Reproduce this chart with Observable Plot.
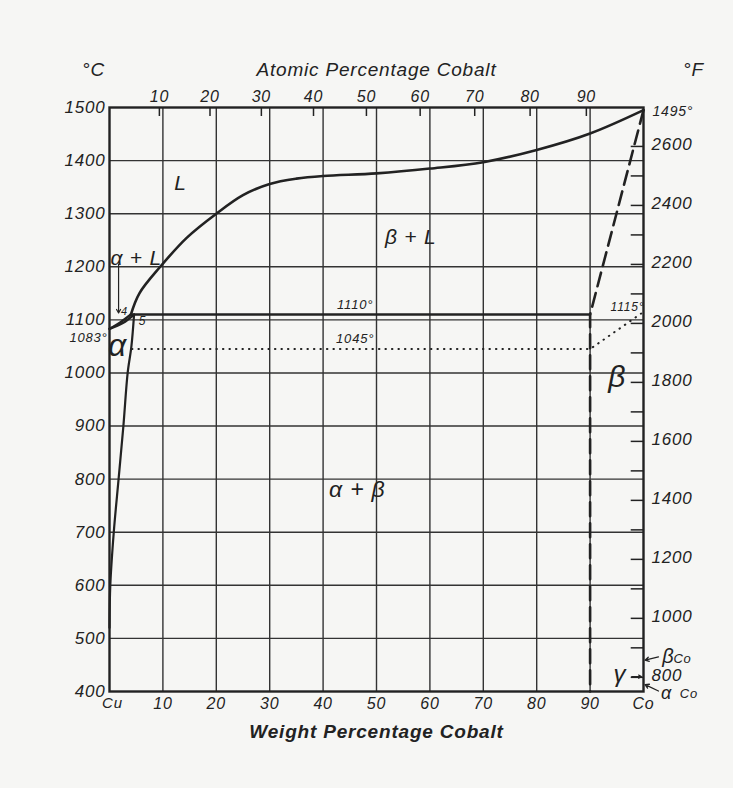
<!DOCTYPE html>
<html>
<head>
<meta charset="utf-8">
<script src="https://cdn.jsdelivr.net/npm/d3@7"></script>
<script src="https://cdn.jsdelivr.net/npm/@observablehq/plot@0.6"></script>
<style>
  html, body { margin: 0; padding: 0; background: #f6f6f4; }
  #chart { width: 733px; height: 788px; }
  svg text { letter-spacing: 0.8px; }
</style>
</head>
<body>
<div id="chart"></div>
<script>
// ---- axes / ticks ----
const wtTicks = [0, 10, 20, 30, 40, 50, 60, 70, 80, 90, 100];
const wtLabels = ["Cu", "10", "20", "30", "40", "50", "60", "70", "80", "90", "Co"];
const tempTicks = [400, 500, 600, 700, 800, 900, 1000, 1100, 1200, 1300, 1400, 1500];
const atTicks = [10, 20, 30, 40, 50, 60, 70, 80, 90];
const fTicks = [800, 900, 1000, 1100, 1200, 1300, 1400, 1500, 1600, 1700, 1800, 1900, 2000, 2100, 2200, 2300, 2400, 2500, 2600];
const fLabels = [800, 1000, 1200, 1400, 1600, 1800, 2000, 2200, 2400, 2600];

// ---- phase boundaries (weight % Co, °C) ----
const liquidusWt = [4.0, 5.6, 9.5, 14.5, 20, 25, 30, 35, 40, 50, 60, 70, 80, 90, 100];
const liquidusT  = [1110, 1150, 1200, 1255, 1300, 1335, 1356, 1366, 1371, 1376, 1385, 1397, 1420, 1451, 1495];
const cuLiqWt = [0, 2, 4.0];
const cuLiqT  = [1083, 1095, 1110];
const cuSolWt = [0, 2.5, 4.6];
const cuSolT  = [1083, 1094, 1110];
const solvusWt = [4.6, 4.1, 3.4, 2.6, 1.7, 0.8, 0.15, 0];
const solvusT  = [1110, 1050, 1000, 900, 800, 700, 600, 520];
const periWt = [4.0, 90];
const periT  = [1110, 1110];
const dotWt = [4.2, 90, 100];
const dotT  = [1045, 1045, 1115];
const dashWt = [100, 90, 90];
const dashT  = [1495, 1110, 400];

// Co allotropic markers (°C)
const betaCoT = 459, gammaT = 428, alphaCoT = 413;

const pts = (xs, ys) => xs.map((x, i) => ({x, y: ys[i]}));
const atToWt = a => a * 58.93 / (a * 58.93 + (100 - a) * 63.55) * 100;
const fToC = f => (f - 32) * 5 / 9;

const ink = "#222";
const txt = (s, x, y, o = {}) => Plot.text([s], {x: () => x, y: () => y, text: d => d, fill: ink, ...o});

const chart = Plot.plot({
  width: 733,
  height: 788,
  marginLeft: 109,
  marginRight: 90,
  marginTop: 107,
  marginBottom: 97,
  x: {domain: [0, 100]},
  y: {domain: [400, 1500]},
  style: {fontFamily: "'Liberation Sans', Arial, sans-serif", fontStyle: "italic", fontSize: "17px", background: "transparent", color: ink},
  marks: [
    // grid
    Plot.ruleX(wtTicks.slice(1, -1), {stroke: "#333", strokeWidth: 1.4}),
    Plot.ruleY(tempTicks.slice(1, -1), {stroke: "#333", strokeWidth: 1.4}),
    Plot.frame({stroke: ink, strokeWidth: 2.4}),
    // axes
    Plot.axisY({ticks: tempTicks, tickSize: 0, tickPadding: 4, tickFormat: d => String(d), label: null, fontSize: 17}),
    Plot.axisX({ticks: wtTicks.slice(1), tickSize: 0, tickPadding: 6, tickFormat: d => wtLabels[wtTicks.indexOf(d)], label: null, fontSize: 16}),
    txt(wtLabels[0], wtTicks[0], 400, {dx: 3, dy: 12, fontSize: 15}),
    // atomic % ticks on top
    Plot.ruleX(atTicks, {x: atToWt, y1: 1500, y2: 1483, stroke: ink, strokeWidth: 1.5}),
    Plot.text(atTicks, {x: atToWt, y: () => 1500, dy: -11, text: d => String(d), fill: ink, fontSize: 16}),
    // °F ticks on right
    Plot.ruleY(fTicks, {y: fToC, x1: 97.7, x2: 100, stroke: ink, strokeWidth: 1.5}),
    Plot.text(fLabels, {y: fToC, x: () => 100, dx: 8, dy: -2, text: d => String(d), textAnchor: "start", fill: ink, fontSize: 17}),
    // phase lines
    Plot.line(pts(liquidusWt, liquidusT), {x: "x", y: "y", curve: "catmull-rom", stroke: ink, strokeWidth: 2.6}),
    Plot.line(pts(cuLiqWt, cuLiqT), {x: "x", y: "y", curve: "catmull-rom", stroke: ink, strokeWidth: 2.4}),
    Plot.line(pts(cuSolWt, cuSolT), {x: "x", y: "y", curve: "catmull-rom", stroke: ink, strokeWidth: 2.4}),
    Plot.line(pts(solvusWt, solvusT), {x: "x", y: "y", curve: "catmull-rom", stroke: ink, strokeWidth: 2.2}),
    Plot.line(pts(periWt, periT), {x: "x", y: "y", stroke: ink, strokeWidth: 2.6}),
    Plot.line(pts(dotWt, dotT), {x: "x", y: "y", stroke: ink, strokeWidth: 2, strokeDasharray: "0.5,6", strokeLinecap: "round"}),
    Plot.line(pts(dashWt, dashT), {x: "x", y: "y", stroke: ink, strokeWidth: 2.6, strokeDasharray: "14,7"}),
    // α+L leader
    Plot.arrow([0], {x1: () => 1.7, y1: () => 1205, x2: () => 1.7, y2: () => 1113, stroke: ink, strokeWidth: 1.2, headLength: 5}),
    // titles
    txt("°C", -3, 1500, {dy: -38, fontSize: 19}),
    txt("°F", 100, 1500, {dx: 50, dy: -38, fontSize: 19}),
    txt("Atomic Percentage Cobalt", 50, 1500, {dy: -38, fontSize: 19, style: "letter-spacing:1.3px"}),
    txt("Weight Percentage Cobalt", 50, 400, {dy: 40, fontSize: 19, fontWeight: "bold"}),
    // temperature annotations
    txt("1495°", 100, 1495, {dx: 9, dy: 1, textAnchor: "start", fontSize: 14}),
    txt("1083°", 0, 1067, {dx: -2, textAnchor: "end", fontSize: 13}),
    txt("1110°", 46, 1110, {dy: -10, fontSize: 13}),
    txt("1045°", 46, 1045, {dy: -10, fontSize: 13}),
    txt("1115°", 97, 1110, {dy: -7, fontSize: 12}),
    txt("4", 2.8, 1116, {fontSize: 11}),
    txt("5", 6.2, 1097, {fontSize: 12}),
    // phase labels
    txt("L", 13.3, 1357, {fontSize: 21}),
    txt("α + L", 5, 1216, {fontSize: 21}),
    txt("β + L", 56.4, 1256, {fontSize: 21}),
    txt("α", 1.5, 1052, {fontSize: 32}),
    txt("β", 95.1, 991, {fontSize: 30}),
    txt("α + β", 46.4, 780, {fontSize: 23}),
    // Co allotropes
    Plot.arrow([0], {x1: () => 102.8, y1: () => betaCoT + 6, x2: () => 100.3, y2: () => betaCoT, stroke: ink, strokeWidth: 1.3, headLength: 5}),
    txt("β", 103.5, betaCoT + 7, {textAnchor: "start", fontSize: 20}),
    txt("Co", 105.6, betaCoT + 3, {textAnchor: "start", fontSize: 13}),
    Plot.arrow([0], {x1: () => 97.8, y1: () => gammaT, x2: () => 99.6, y2: () => gammaT, stroke: ink, strokeWidth: 1.2, headLength: 4}),
    txt("γ", 96.8, gammaT + 4, {textAnchor: "end", fontSize: 24}),
    Plot.arrow([0], {x1: () => 102.8, y1: () => alphaCoT - 12, x2: () => 100.3, y2: () => alphaCoT, stroke: ink, strokeWidth: 1.3, headLength: 5}),
    txt("α", 103.3, alphaCoT - 17, {textAnchor: "start", fontSize: 18}),
    txt("Co", 106.8, alphaCoT - 17, {textAnchor: "start", fontSize: 13})
  ]
});
document.getElementById("chart").appendChild(chart);
</script>
</body>
</html>
